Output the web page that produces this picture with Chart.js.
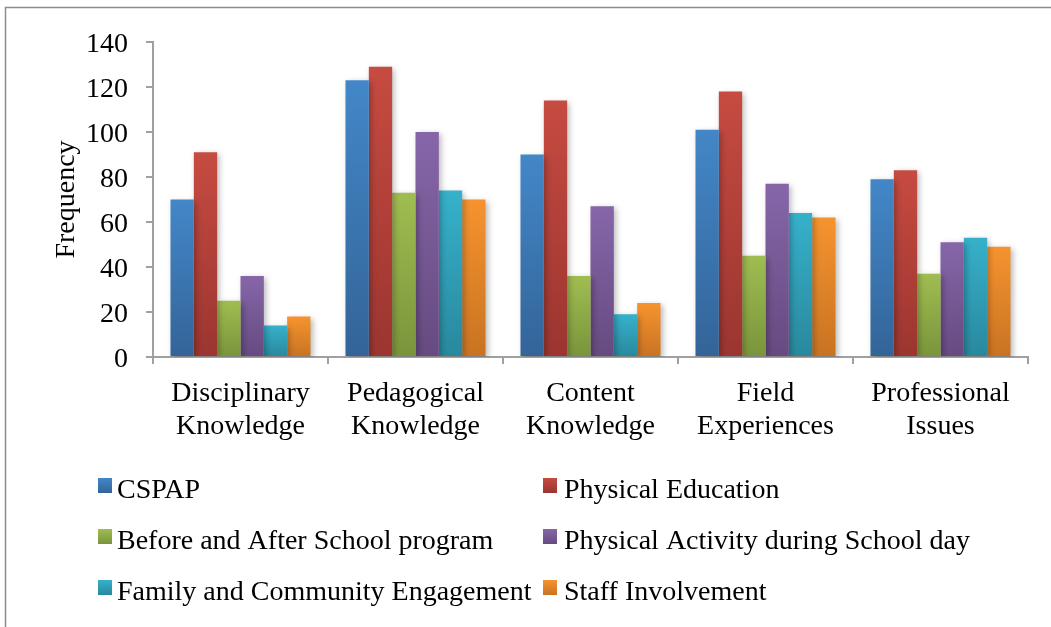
<!DOCTYPE html>
<html>
<head>
<meta charset="utf-8">
<script src="https://cdn.jsdelivr.net/npm/chart.js@4.4.0/dist/chart.umd.min.js"></script>
<style>
  html, body { margin: 0; padding: 0; background: #fff; }
  #wrap { position: relative; width: 1051px; height: 627px; }
</style>
</head>
<body>
<div id="wrap"><canvas id="c" width="1051" height="627"></canvas></div>
<script>
// Topic areas (x axis), split over two lines
const categories = [
  ["Disciplinary", "Knowledge"],
  ["Pedagogical", "Knowledge"],
  ["Content", "Knowledge"],
  ["Field", "Experiences"],
  ["Professional", "Issues"]
];

// Frequency per component, in category order
const cspap             = [70, 123, 90, 101, 79];
const physicalEducation = [91, 129, 114, 118, 83];
const beforeAfterSchool = [25, 73, 36, 45, 37];
const activityDuringDay = [36, 100, 67, 77, 51];
const familyCommunity   = [14, 74, 19, 64, 53];
const staffInvolvement  = [18, 70, 24, 62, 49];

const seriesNames = [
  "CSPAP",
  "Physical Education",
  "Before and After School program",
  "Physical Activity during School day",
  "Family and Community Engagement",
  "Staff Involvement"
];

const yTicks = [0, 20, 40, 60, 80, 100, 120, 140];

// light (top) / dark (bottom) shade for each series
const shades = [
  ["#4387c8", "#336498"],
  ["#c64b41", "#9b3530"],
  ["#a0bd51", "#7a943b"],
  ["#8666a9", "#664a80"],
  ["#36b1cb", "#29889d"],
  ["#f6932f", "#c87322"]
];

const FONT = "'Liberation Serif', 'Times New Roman', serif";
const FONT_SIZE = 28;
const AXIS_GREY = "#a0a0a0";

function barFill(idx) {
  return function (ctx) {
    const chart = ctx.chart;
    const area = chart.chartArea;
    if (!area || ctx.type !== "data") return shades[idx][0];
    const y = chart.scales.y;
    const top = y.getPixelForValue(ctx.raw);
    const bottom = y.getPixelForValue(0);
    if (!isFinite(top) || Math.abs(bottom - top) < 1) return shades[idx][0];
    const g = chart.ctx.createLinearGradient(0, top, 0, bottom);
    g.addColorStop(0, shades[idx][0]);
    g.addColorStop(1, shades[idx][1]);
    return g;
  };
}

const seriesValues = [cspap, physicalEducation, beforeAfterSchool, activityDuringDay, familyCommunity, staffInvolvement];

const datasets = seriesValues.map((vals, i) => ({
  label: seriesNames[i],
  data: vals,
  backgroundColor: barFill(i),
  borderWidth: 0,
  categoryPercentage: 0.8,
  barPercentage: 1.0
}));

// white page with a thin grey frame
const framePlugin = {
  id: "frame",
  beforeDraw(chart) {
    const c = chart.ctx;
    c.save();
    c.fillStyle = "#fff";
    c.fillRect(0, 0, chart.width, chart.height);
    c.strokeStyle = "#8c8c8c";
    c.lineWidth = 1.5;
    c.strokeRect(5.5, 7.5, chart.width + 20, chart.height + 20);
    c.restore();
  }
};

// soft drop shadow behind the bars
const shadowPlugin = {
  id: "barShadow",
  beforeDatasetsDraw(chart) {
    const c = chart.ctx;
    c.save();
    c.shadowColor = "rgba(0,0,0,0.28)";
    c.shadowBlur = 6;
    c.shadowOffsetX = 2;
    c.shadowOffsetY = 2;
  },
  afterDatasetsDraw(chart) {
    chart.ctx.restore();
  }
};

// two-column legend under the axis
const legendPlugin = {
  id: "gridLegend",
  afterDraw(chart) {
    const c = chart.ctx;
    const colX = [98, 543];
    const textX = [117, 564];
    const rowY = [498, 549, 600]; // text baselines
    c.save();
    c.font = FONT_SIZE + "px " + FONT;
    c.textBaseline = "alphabetic";
    c.textAlign = "left";
    seriesNames.forEach((name, i) => {
      const col = i % 2, row = Math.floor(i / 2);
      const bx = colX[col], by = rowY[row] - 20;
      const g = c.createLinearGradient(0, by, 0, by + 15);
      g.addColorStop(0, shades[i][0]);
      g.addColorStop(1, shades[i][1]);
      c.fillStyle = g;
      c.fillRect(bx, by, 14, 15);
      c.fillStyle = "#000";
      c.fillText(name, textX[col], rowY[row]);
    });
    c.restore();
  }
};

new Chart(document.getElementById("c"), {
  type: "bar",
  data: { labels: categories, datasets },
  plugins: [framePlugin, shadowPlugin, legendPlugin],
  options: {
    responsive: false,
    animation: false,
    devicePixelRatio: 1,
    layout: { padding: { top: 42, right: 23, left: 0, bottom: 0 } },
    plugins: {
      legend: { display: false },
      tooltip: { enabled: false },
      title: { display: false }
    },
    scales: {
      x: {
        grid: {
          display: true,
          drawOnChartArea: false,
          drawTicks: true,
          tickLength: 7,
          color: AXIS_GREY,
          lineWidth: 2,
          offset: true
        },
        border: { display: true, color: AXIS_GREY, width: 2 },
        ticks: {
          color: "#000",
          font: { family: FONT, size: FONT_SIZE, lineHeight: 1.18 },
          padding: 13,
          maxRotation: 0,
          autoSkip: false
        },
        afterFit(scale) { scale.height = 270; }
      },
      y: {
        min: 0,
        max: 140,
        afterBuildTicks(scale) { scale.ticks = yTicks.map(v => ({ value: v })); },
        grid: {
          display: true,
          drawOnChartArea: false,
          drawTicks: true,
          tickLength: 7,
          color: AXIS_GREY,
          lineWidth: 2
        },
        border: { display: true, color: AXIS_GREY, width: 2 },
        ticks: {
          color: "#000",
          font: { family: FONT, size: FONT_SIZE },
          padding: 18,
          labelOffset: 3
        },
        title: {
          display: true,
          text: "Frequency",
          color: "#000",
          font: { family: FONT, size: FONT_SIZE },
          padding: { top: 50, bottom: 0 }
        },
        afterFit(scale) { scale.width = 153; }
      }
    }
  }
});
</script>
</body>
</html>
